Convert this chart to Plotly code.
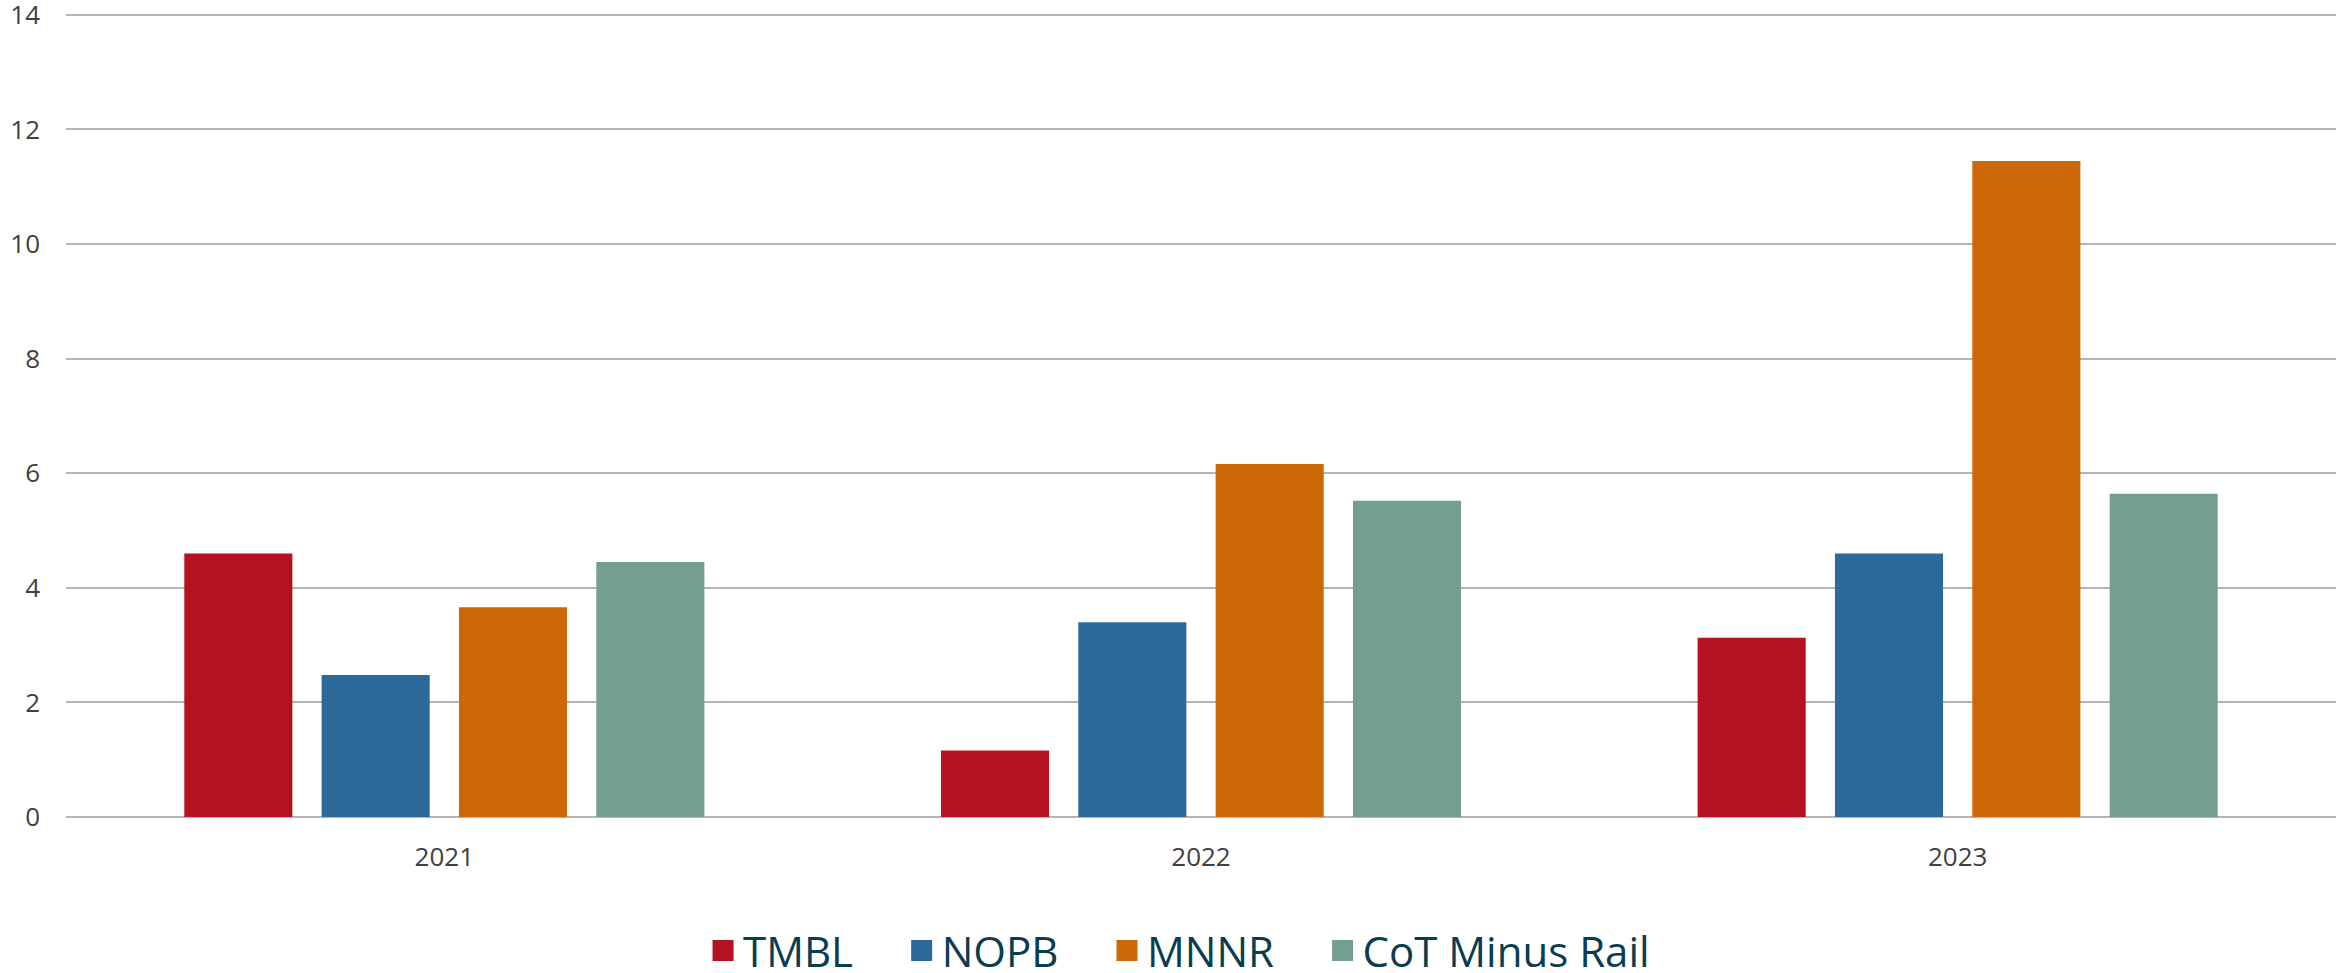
import plotly.graph_objects as go

years = ["2021", "2022", "2023"]
series_names = ["TMBL", "NOPB", "MNNR", "CoT Minus Rail"]
tmbl = [4.60, 1.16, 3.13]
nopb = [2.48, 3.40, 4.60]
mnnr = [3.66, 6.16, 11.45]
cot = [4.45, 5.52, 5.64]
y_ticks = [0, 2, 4, 6, 8, 10, 12, 14]

colors = ["#B3121F", "#2D6A9C", "#CD6808", "#739F90"]
values = [tmbl, nopb, mnnr, cot]

fig = go.Figure()
for name, vals, col in zip(series_names, values, colors):
    fig.add_trace(go.Bar(
        x=years, y=vals, name=name, showlegend=False,
        marker=dict(color=col, line=dict(width=0)),
    ))
# legend entries with larger square swatches
pad = "\u00a0" * 4
for name, col in zip(series_names, colors):
    fig.add_trace(go.Scatter(
        x=[None], y=[None], mode="markers", name=name + pad,
        marker=dict(symbol="square", size=16, color=col,
                    line=dict(width=5, color=col)),
    ))

fig.update_layout(
    width=2338, height=973,
    margin=dict(l=66, r=2, t=12, b=156, autoexpand=False),
    paper_bgcolor="white", plot_bgcolor="white",
    barmode="group", bargap=0.274, bargroupgap=0.213,
    font=dict(family="Open Sans", color="#404040", size=26),
    legend=dict(
        orientation="h", xref="container", yref="container",
        x=0.3007, xanchor="left", y=0.023, yanchor="middle",
        font=dict(family="Open Sans", size=42, color="#0A3D50"),
        bgcolor="rgba(0,0,0,0)",
    ),
    xaxis=dict(
        type="category", showgrid=False, showline=False, zeroline=False,
        ticks="", tickfont=dict(size=26, color="#404040"),
        ticklabelstandoff=22,
    ),
    yaxis=dict(
        range=[0, 14.05], tickvals=y_ticks, showgrid=True,
        gridcolor="#B4B4B4", gridwidth=2, zeroline=True,
        zerolinecolor="#B4B4B4", zerolinewidth=2, showline=False,
        ticks="", tickfont=dict(size=26, color="#404040"),
        ticklabelstandoff=25, ticklabeloverflow="allow",
    ),
)

fig.write_html(
    "out.html",
    config={"displayModeBar": False},
    post_script="document.body.style.margin='0';document.body.style.overflow='hidden';",
)
